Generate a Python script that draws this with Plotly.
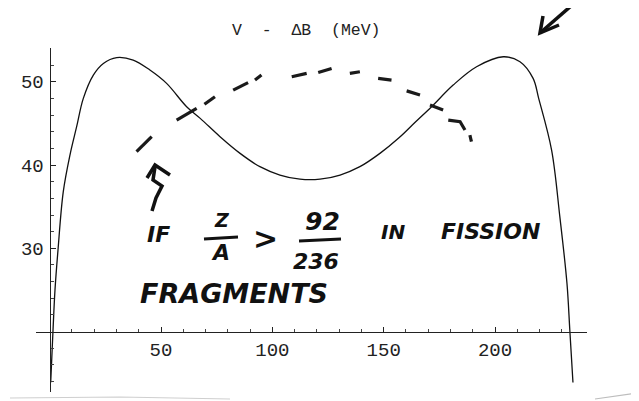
import plotly.graph_objects as go

# ---------------- data ----------------
mass_number = [0.45, 1.48, 2.38, 3.73, 6.1, 9.1, 12.1, 15.1, 19.6, 24.1, 30.1, 37.5, 45.0,
               52.5, 61.5, 67.6, 76.5, 85.5, 94.4, 103.4, 112.4, 121.4, 130.4, 139.3,
               148.3, 157.0, 164.0, 171.5, 181.2, 191.7, 203.7, 211.2, 217.1, 219.6,
               225.4, 229.1, 232.3, 233.6, 235.0]
v_minus_dB = [13.9, 20.1, 25.0, 29.8, 36.8, 41.2, 44.6, 48.0, 50.8, 52.2, 52.9, 52.6, 51.4,
              49.8, 47.0, 45.6, 43.4, 41.4, 39.8, 38.8, 38.3, 38.3, 38.8, 39.8,
              41.4, 43.3, 45.1, 47.0, 49.6, 51.8, 53.0, 52.4, 50.4, 48.0,
              41.8, 33.8, 25.8, 20.1, 13.9]

# hand-drawn dashed curve (each dash = a short run of points, None = gap)
dash_A = [39.0, 45.8, None, 57.0, 66.0, None, 69.5, 74.2, None, 82.4, 89.1, None,
          92.2, 95.1, None, 108.7, 115.4, None, 120.6, 126.6, None, 134.8, 139.3, None,
          147.5, 153.5, None, 160.3, 166.3, None, 170.8, 176.7, None,
          179.0, 184.3, 186.5, None, 188.7, 189.4]
dash_V = [41.6, 43.4, None, 45.4, 46.8, None, 47.3, 48.2, None, 49.0, 49.9, None,
          50.2, 50.8, None, 50.6, 51.0, None, 51.1, 51.6, None, 51.0, 51.2, None,
          50.4, 50.2, None, 48.9, 48.4, None, 47.2, 46.6, None,
          45.4, 45.2, 44.2, None, 43.6, 42.8]

x_tick_vals = [50, 100, 150, 200]
x_tick_text = ["50", "100", "150", "200"]
y_tick_vals = [30, 40, 50]
y_tick_text = ["30", "40", "50"]

title_text = "V\u00a0\u00a0-\u00a0\u00a0\u0394B\u00a0\u00a0(MeV)"

# ---------------- layout geometry (screen pixels) ----------------
OFF = 8                      # page body margin of the html page
W, H = 639 - OFF, 401 - OFF  # figure size that fits the window
L, R, T, B = 36, 587, 48, 392  # plot area in screen pixels
X_RANGE = [-6.15, 241.3]
Y_RANGE = [12.75, 54.05]


def px(x):
    return (x - L) / (R - L)


def py(y):
    return (B - y) / (B - T)


def path(pts):
    s = ""
    for i, (x, y) in enumerate(pts):
        s += ("M " if i == 0 else " L ") + f"{px(x):.5f},{py(y):.5f}"
    return s


fig = go.Figure()
fig.add_trace(go.Scatter(x=mass_number, y=v_minus_dB, mode="lines",
                         line=dict(color="#111111", width=1.3, shape="spline", smoothing=1.0),
                         hoverinfo="skip", showlegend=False))
fig.add_trace(go.Scatter(x=dash_A, y=dash_V, mode="lines", connectgaps=False,
                         line=dict(color="#1a1a1a", width=3.2),
                         hoverinfo="skip", showlegend=False))

x_axis_pos = (20 - Y_RANGE[0]) / (Y_RANGE[1] - Y_RANGE[0])
y_axis_pos = (0 - X_RANGE[0]) / (X_RANGE[1] - X_RANGE[0])

tick_font = dict(family="Liberation Mono", size=19, color="#222222")

fig.update_layout(
    width=W, height=H,
    margin=dict(l=L - OFF, r=(W + OFF) - R, t=T - OFF, b=(H + OFF) - B, autoexpand=False),
    paper_bgcolor="white", plot_bgcolor="white",
    showlegend=False,
    xaxis=dict(range=X_RANGE, anchor="free", position=x_axis_pos,
               showline=True, linecolor="#222222", linewidth=1.2,
               showgrid=False, zeroline=False, automargin=False,
               tickmode="array", tickvals=x_tick_vals, ticktext=x_tick_text,
               ticks="inside", ticklen=5, tickwidth=1, tickcolor="#222222",
               tickfont=tick_font,
               minor=dict(tickmode="array",
                          tickvals=[v for v in range(10, 240, 10) if v % 50],
                          ticks="inside", ticklen=3, tickwidth=1, tickcolor="#444444")),
    yaxis=dict(range=Y_RANGE, anchor="free", position=y_axis_pos,
               showline=True, linecolor="#222222", linewidth=1.2,
               showgrid=False, zeroline=False, automargin=False,
               tickmode="array", tickvals=y_tick_vals, ticktext=y_tick_text,
               ticks="inside", ticklen=5, tickwidth=1, tickcolor="#222222",
               tickfont=tick_font, ticklabelstandoff=2,
               minor=dict(tickmode="array",
                          tickvals=[v for v in range(14, 55, 2) if v % 10],
                          ticks="inside", ticklen=3, tickwidth=1, tickcolor="#444444")),
)

ann = []
ann.append(dict(text=title_text, x=px(306.5), y=py(31), xref="paper", yref="paper",
                xanchor="center", yanchor="middle",
                showarrow=False, font=dict(family="Liberation Mono", size=16.5, color="#222222")))

hw = dict(family="DejaVu Sans", color="#111111")


def hand(text, x, y, size):
    ann.append(dict(text=f"<b><i>{text}</i></b>", x=px(x), y=py(y), xref="paper", yref="paper",
                    showarrow=False, xanchor="center", yanchor="middle",
                    font=dict(size=size, **hw)))


hand("IF", 158, 234, 22)
hand("Z", 222, 220, 19)
hand("A", 220, 253, 22)
hand("&gt;", 265, 238, 30)
hand("92", 322, 221, 25)
hand("236", 316, 261, 22)
hand("IN", 393, 232, 20)
hand("FISSION", 490, 231, 22)
hand("FRAGMENTS", 234, 293, 27)
fig.update_layout(annotations=ann)

shapes = []
ink = dict(color="#111111", width=3)
# fraction bars
shapes.append(dict(type="path", path=path([(204, 239), (238, 237)]), xref="paper", yref="paper", line=ink))
shapes.append(dict(type="path", path=path([(299, 241), (341, 239)]), xref="paper", yref="paper", line=ink))
# squiggle arrow pointing at the dashed curve
shapes.append(dict(type="path", path=path([(147, 178), (155, 165), (170, 175)]), xref="paper", yref="paper",
                   line=dict(color="#111111", width=3.5)))
shapes.append(dict(type="path", path=path([(155, 167), (153, 180), (162, 186), (156, 198), (152, 211)]),
                   xref="paper", yref="paper", line=dict(color="#111111", width=3.5)))
# arrow top right
shapes.append(dict(type="path", path=path([(571, 6), (540, 33)]), xref="paper", yref="paper",
                   line=dict(color="#111111", width=3.5)))
shapes.append(dict(type="path", path=path([(543, 16), (540, 33), (559, 25)]), xref="paper", yref="paper",
                   line=dict(color="#111111", width=3.5)))
# faint scan edges
shapes.append(dict(type="path", path=path([(10, 398), (120, 397), (230, 399)]), xref="paper", yref="paper",
                   line=dict(color="#cfcfcf", width=1.2)))
shapes.append(dict(type="path", path=path([(595, 399), (637, 393)]), xref="paper", yref="paper",
                   line=dict(color="#bdbdbd", width=1.2)))
shapes.append(dict(type="path", path=path([(632, 12), (633, 200)]), xref="paper", yref="paper",
                   line=dict(color="#e6e6e6", width=2)))
fig.update_layout(shapes=shapes)

fig.write_html("out.html")
